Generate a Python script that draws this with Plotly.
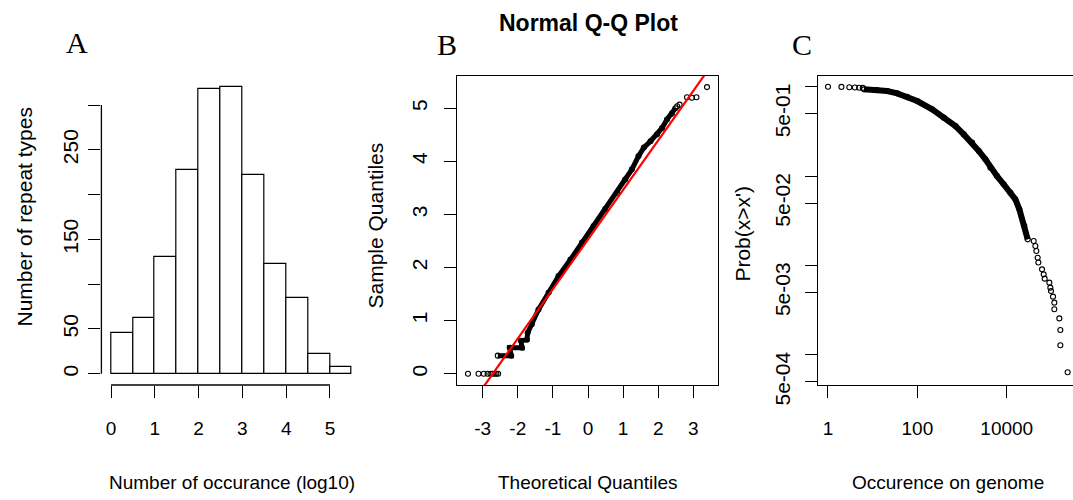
import plotly.graph_objects as go

W, H = 1073, 500

# ---------------- Panel A: histogram of log10 occurrence ----------------
bin_starts = [0.0, 0.5, 1.0, 1.5, 2.0, 2.5, 3.0, 3.5, 4.0, 4.5, 5.0]
bin_width = 0.5
hist_counts = [46, 62, 130, 227, 318, 320, 222, 123, 85, 22, 8]
a_xticks = [0, 1, 2, 3, 4, 5]
a_yticks = [0, 50, 100, 150, 200, 250, 300]
a_yticklabels = ["0", "50", "", "150", "", "250", ""]

# ---------------- Panel B: normal Q-Q plot ----------------
qq_low_x = [-3.42, -3.12, -2.97, -2.86, -2.78, -2.72, -2.66, -2.61, -2.56]
qq_low_y = [0.0, 0.0, 0.0, 0.0, 0.0, 0.0, 0.0, 0.0, 0.0]
qq_band_x = [-2.57, -2.19, -2.23, -1.88, -1.91, -1.74, -1.72, -1.60, -1.41, -1.12,
             -0.84, -0.50, -0.17, 0.16, 0.49, 0.83, 1.06, 1.25, 1.44, 1.59,
             1.78, 1.97, 2.11, 2.25, 2.39, 2.49]
qq_band_y = [0.34, 0.34, 0.49, 0.49, 0.62, 0.64, 0.77, 0.93, 1.21, 1.53,
             1.84, 2.15, 2.47, 2.78, 3.10, 3.41, 3.66, 3.85, 4.10, 4.26,
             4.38, 4.51, 4.63, 4.79, 4.90, 5.00]
qq_high_x = [2.54, 2.61, 2.82, 2.96, 3.09, 3.39]
qq_high_y = [5.04, 5.07, 5.21, 5.20, 5.21, 5.40]
qq_intercept = 2.53
qq_slope = 0.933
b_ticks_x = [-3, -2, -1, 0, 1, 2, 3]
b_ticklabels_x = ["-3", "-2", "-1", "0", "1", "2", "3"]
b_ticks_y = [0, 1, 2, 3, 4, 5]

# ---------------- Panel C: survival curve on log-log axes ----------------
c_top_x = [1, 2, 3, 4, 5, 6]
c_top_y = [1.0, 0.995, 0.985, 0.98, 0.975, 0.97]
c_band_x = [6.4, 12.6, 21.1, 35.4, 59.2, 99.1, 214, 390, 711, 1091, 1679, 2366,
            3327, 4305, 6067, 8551, 12050, 15600, 19140, 24770, 29440]
c_band_y = [0.935, 0.918, 0.895, 0.843, 0.773, 0.692, 0.558, 0.451, 0.363, 0.293,
            0.237, 0.191, 0.154, 0.124, 0.100, 0.0809, 0.0653, 0.0550, 0.0425,
            0.0277, 0.0196]
c_tail_x = [40090, 43650, 45920, 49200, 50930, 61520, 66990, 70630, 89740, 94410,
            97720, 108400, 115900, 115900, 150000, 158100, 158100, 230100]
c_tail_y = [0.0188, 0.0165, 0.0145, 0.0122, 0.0108, 0.00906, 0.00796, 0.00713,
            0.00643, 0.00565, 0.00519, 0.00448, 0.00384, 0.00324, 0.00256,
            0.00190, 0.00128, 0.00064]
c_xticks = [1, 100, 10000]
c_xticklabels = ["1", "100", "10000"]
c_yticks = [1, 0.5, 0.1, 0.05, 0.01, 0.005, 0.001, 0.0005]
c_yticklabels = ["", "5e-01", "", "5e-02", "", "5e-03", "", "5e-04"]

FONT = "Liberation Sans, Arial, sans-serif"
HFS = 19
VFS = 21


def px_x(p):
    return p / W


def px_y(p):
    return 1 - p / H


fig = go.Figure()

fig.add_trace(go.Bar(x=bin_starts, y=hist_counts, width=bin_width, offset=0,
                     marker=dict(color="white", line=dict(color="black", width=1.2)),
                     xaxis="x", yaxis="y", showlegend=False))

mk = dict(symbol="circle-open", size=5, color="black", line=dict(width=1.1, color="black"))
fig.add_trace(go.Scatter(x=qq_low_x, y=qq_low_y, mode="markers", marker=mk,
                         xaxis="x2", yaxis="y2", showlegend=False))
fig.add_trace(go.Scatter(x=qq_band_x, y=qq_band_y, mode="lines+markers", marker=mk,
                         line=dict(color="black", width=5),
                         xaxis="x2", yaxis="y2", showlegend=False))
fig.add_trace(go.Scatter(x=qq_high_x, y=qq_high_y, mode="markers", marker=mk,
                         xaxis="x2", yaxis="y2", showlegend=False))
line_x = [-4.5, 4.5]
fig.add_trace(go.Scatter(x=line_x, y=[qq_intercept + qq_slope * v for v in line_x],
                         mode="lines", line=dict(color="red", width=2.2),
                         xaxis="x2", yaxis="y2", showlegend=False))

fig.add_trace(go.Scatter(x=c_top_x, y=c_top_y, mode="markers", marker=mk,
                         xaxis="x3", yaxis="y3", showlegend=False))
fig.add_trace(go.Scatter(x=c_band_x, y=c_band_y, mode="lines+markers", marker=mk,
                         line=dict(color="black", width=6),
                         xaxis="x3", yaxis="y3", showlegend=False))
fig.add_trace(go.Scatter(x=c_tail_x, y=c_tail_y, mode="markers", marker=mk,
                         xaxis="x3", yaxis="y3", showlegend=False))

ydom = [px_y(385), px_y(76)]
a_xdom = [px_x(101.4), px_x(361.5)]
a_xrange = [-0.22, 5.72]
a_yrange = [-12.6, 332.4]
common_tick = dict(ticks="outside", ticklen=12, tickwidth=1, tickcolor="black",
                   showgrid=False, zeroline=False, linecolor="black", linewidth=1,
                   automargin=False)
xtickfont = dict(family=FONT, size=HFS, color="black")
ytickfont = dict(family=FONT, size=VFS, color="black")
XSTAND = 14

fig.update_layout(
    width=W, height=H, autosize=False, margin=dict(l=0, r=0, t=0, b=0, autoexpand=False),
    paper_bgcolor="white", plot_bgcolor="white",
    font=dict(family=FONT, color="black"),
    bargap=0,
    xaxis=dict(domain=a_xdom, range=a_xrange, anchor="y",
               tickvals=a_xticks, tickfont=xtickfont, showline=False,
               ticklabelstandoff=XSTAND, **common_tick),
    yaxis=dict(domain=ydom, range=a_yrange, anchor="x",
               tickvals=a_yticks, ticktext=a_yticklabels, tickangle=-90,
               tickfont=ytickfont, showline=False, ticklabelstandoff=2, **common_tick),
    xaxis2=dict(domain=[px_x(457.3), px_x(717.7)], range=[-3.724, 3.695], anchor="y2",
                tickvals=b_ticks_x, ticktext=b_ticklabels_x, tickfont=xtickfont,
                showline=True, mirror=True, ticklabelstandoff=XSTAND, **common_tick),
    yaxis2=dict(domain=ydom, range=[-0.213, 5.609], anchor="x2",
                tickvals=b_ticks_y, tickangle=-90, tickfont=ytickfont,
                showline=True, mirror=True, ticklabelstandoff=9, **common_tick),
    xaxis3=dict(domain=[px_x(817.7), 1.0], type="log", range=[-0.23, 5.482], anchor="y3",
                tickvals=c_xticks, ticktext=c_xticklabels, tickfont=xtickfont,
                showline=True, mirror=True, ticklabelstandoff=XSTAND, **common_tick),
    yaxis3=dict(domain=ydom, type="log", range=[-3.337, 0.120], anchor="x3",
                tickvals=c_yticks, ticktext=c_yticklabels, tickangle=-90,
                tickfont=ytickfont, showline=True, mirror=False,
                ticklabelstandoff=6, **common_tick),
)


# Panel A partial axis lines (R style: drawn only across the tick range),
# positioned in paper units from the axis domains and ranges so they are not clipped.
def a_paper_x(v):
    f = (v - a_xrange[0]) / (a_xrange[1] - a_xrange[0])
    return a_xdom[0] + f * (a_xdom[1] - a_xdom[0])


def a_paper_y(v):
    f = (v - a_yrange[0]) / (a_yrange[1] - a_yrange[0])
    return ydom[0] + f * (ydom[1] - ydom[0])


fig.add_shape(type="line", xref="paper", yref="paper",
              x0=a_paper_x(a_xticks[0]), x1=a_paper_x(a_xticks[-1]),
              y0=ydom[0], y1=ydom[0], line=dict(color="black", width=1.3))
fig.add_shape(type="line", xref="paper", yref="paper", x0=a_xdom[0], x1=a_xdom[0],
              y0=a_paper_y(a_yticks[0]), y1=a_paper_y(a_yticks[-1]),
              line=dict(color="black", width=1.3))

annots = []


def add_text(text, x, y, size, angle=0, family=FONT, bold=False):
    annots.append(dict(text=("<b>%s</b>" % text) if bold else text,
                       x=px_x(x), y=px_y(y), xref="paper", yref="paper",
                       xanchor="center", yanchor="middle", showarrow=False,
                       textangle=angle, font=dict(family=family, size=size, color="black")))


add_text("Number of occurance (log10)", 231.5, 482, HFS)
add_text("Theoretical Quantiles", 588.3, 482, HFS)
add_text("Occurence on genome", 948.3, 482, HFS)
add_text("Number of repeat types", 24, 217.5, VFS, angle=-90)
add_text("Sample Quantiles", 375.7, 225.8, VFS, angle=-90)
add_text("Prob(x>x')", 742.3, 233.3, VFS, angle=-90)
add_text("Normal Q-Q Plot", 588.3, 23, 23, bold=True)
SERIF = "Liberation Serif, Times New Roman, serif"
add_text("A", 77, 43, 30, family=SERIF)
add_text("B", 446.7, 45, 30, family=SERIF)
add_text("C", 801.7, 45, 30, family=SERIF)
fig.update_layout(annotations=annots)

fig.write_html("out.html", config={"responsive": False})
